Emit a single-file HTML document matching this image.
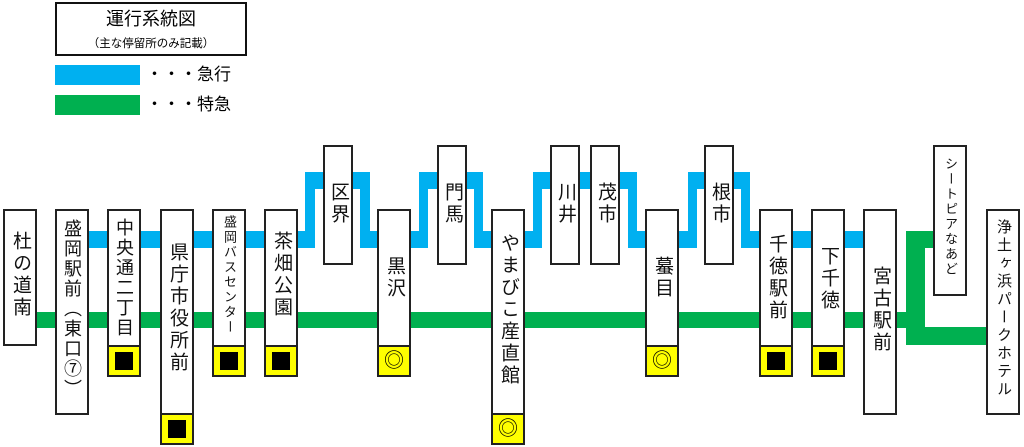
<!DOCTYPE html>
<html><head><meta charset="utf-8"><style>
body{margin:0;width:1024px;height:447px;background:#fff;position:relative;overflow:hidden;font-family:"Liberation Sans","Noto Sans CJK JP",sans-serif;}
.a{position:absolute;box-sizing:border-box;}
.b{position:absolute;box-sizing:border-box;border:2px solid #222;background:#fff;}
.t{position:absolute;left:0;right:0;writing-mode:vertical-rl;text-orientation:upright;margin:0 auto;width:24px;font-size:19px;letter-spacing:3px;line-height:24px;color:#111;white-space:nowrap;}
.y{position:absolute;box-sizing:border-box;border:2px solid #222;background:#ffff00;height:32px;}
.sq{position:absolute;left:50%;top:50%;width:18px;height:18px;margin:-9px 0 0 -9px;background:#000;}
.dc{position:absolute;left:0;right:0;top:2px;text-align:center;font-size:20px;line-height:24px;}
</style></head><body>
<svg class="a" style="left:0;top:0" width="1024" height="447">
<g fill="#00b0f0">
<rect x="88" y="231" width="227" height="17"/>
<rect x="305" y="172" width="10" height="76"/>
<rect x="305" y="172" width="65" height="17"/>
<rect x="360" y="172" width="10" height="76"/>
<rect x="360" y="231" width="68" height="17"/>
<rect x="419" y="172" width="9" height="76"/>
<rect x="419" y="172" width="64" height="17"/>
<rect x="474" y="172" width="9" height="76"/>
<rect x="474" y="231" width="68" height="17"/>
<rect x="533" y="172" width="9" height="76"/>
<rect x="533" y="172" width="104" height="17"/>
<rect x="628" y="172" width="9" height="76"/>
<rect x="628" y="231" width="69" height="17"/>
<rect x="688" y="172" width="9" height="76"/>
<rect x="688" y="172" width="62" height="17"/>
<rect x="741" y="172" width="9" height="76"/>
<rect x="741" y="231" width="122" height="17"/>
</g>
<g fill="#00b050">
<rect x="36" y="312" width="880" height="16"/>
<rect x="906" y="231" width="19" height="114"/>
<rect x="906" y="231" width="27" height="17"/>
<rect x="906" y="327" width="80" height="18"/>
<rect x="55" y="95" width="85" height="20"/>
</g>
<rect x="55" y="65" width="85" height="20" fill="#00b0f0"/>
</svg>
<div class="b" style="left:55px;top:2px;width:192px;height:54px;border-color:#111;">
<div style="position:absolute;left:0;right:0;top:4px;text-align:center;font-size:18px;line-height:22px;">運行系統図</div>
<div style="position:absolute;left:0;right:0;top:33px;text-align:center;font-size:11.5px;line-height:14px;">（主な停留所のみ記載）</div>
</div>
<div class="a" style="left:146px;top:63px;font-size:17px;line-height:24px;">・・・急行</div>
<div class="a" style="left:146px;top:93px;font-size:17px;line-height:24px;">・・・特急</div>

<div class="b" style="left:3px;top:209px;width:34px;height:137px;"><div class="t" style="top:20px">杜の道南</div></div>
<div class="b" style="left:55px;top:209px;width:34px;height:206px;"><div class="t" style="top:8px;letter-spacing:2px;font-size:18px">盛岡駅前（東口⑦）</div></div>
<div class="b" style="left:107px;top:209px;width:34px;height:138px;"><div class="t" style="top:7px;font-size:18px;letter-spacing:2px">中央通二丁目</div></div>
<div class="y" style="left:107px;top:345px;width:34px;"><div class="sq"></div></div>
<div class="b" style="left:160px;top:209px;width:34px;height:206px;"><div class="t" style="top:31px">県庁市役所前</div></div>
<div class="y" style="left:160px;top:413px;width:34px;"><div class="sq"></div></div>
<div class="b" style="left:212px;top:209px;width:34px;height:138px;"><div class="t" style="top:4px;font-size:13px;letter-spacing:2px;width:16px;line-height:16px">盛岡バスセンター</div></div>
<div class="y" style="left:212px;top:345px;width:34px;"><div class="sq"></div></div>
<div class="b" style="left:264px;top:209px;width:34px;height:138px;"><div class="t" style="top:20px">茶畑公園</div></div>
<div class="y" style="left:264px;top:345px;width:34px;"><div class="sq"></div></div>
<div class="b" style="left:323px;top:145px;width:30px;height:120px;"><div class="t" style="top:35px">区界</div></div>
<div class="b" style="left:377px;top:209px;width:34px;height:138px;"><div class="t" style="top:45px">黒沢</div></div>
<div class="y" style="left:377px;top:345px;width:34px;"><div class="dc">◎</div></div>
<div class="b" style="left:437px;top:145px;width:30px;height:120px;"><div class="t" style="top:35px">門馬</div></div>
<div class="b" style="left:491px;top:209px;width:34px;height:206px;"><div class="t" style="top:22px">やまびこ産直館</div></div>
<div class="y" style="left:491px;top:413px;width:34px;"><div class="dc">◎</div></div>
<div class="b" style="left:550px;top:145px;width:30px;height:120px;"><div class="t" style="top:35px">川井</div></div>
<div class="b" style="left:590px;top:145px;width:30px;height:120px;"><div class="t" style="top:35px">茂市</div></div>
<div class="b" style="left:645px;top:209px;width:34px;height:138px;"><div class="t" style="top:45px">蟇目</div></div>
<div class="y" style="left:645px;top:345px;width:34px;"><div class="dc">◎</div></div>
<div class="b" style="left:704px;top:145px;width:30px;height:120px;"><div class="t" style="top:35px">根市</div></div>
<div class="b" style="left:759px;top:209px;width:34px;height:138px;"><div class="t" style="top:23px">千徳駅前</div></div>
<div class="y" style="left:759px;top:345px;width:34px;"><div class="sq"></div></div>
<div class="b" style="left:811px;top:209px;width:34px;height:138px;"><div class="t" style="top:35px">下千徳</div></div>
<div class="y" style="left:811px;top:345px;width:34px;"><div class="sq"></div></div>
<div class="b" style="left:863px;top:209px;width:34px;height:206px;"><div class="t" style="top:55px">宮古駅前</div></div>
<div class="b" style="left:933px;top:145px;width:34px;height:151px;"><div class="t" style="top:10px;font-size:13px;letter-spacing:2px;width:16px;line-height:16px">シートピアなあど</div></div>
<div class="b" style="left:986px;top:209px;width:34px;height:206px;"><div class="t" style="top:8px;font-size:15px;letter-spacing:3px;width:18px;line-height:18px">浄土ヶ浜パークホテル</div></div>
</body></html>
